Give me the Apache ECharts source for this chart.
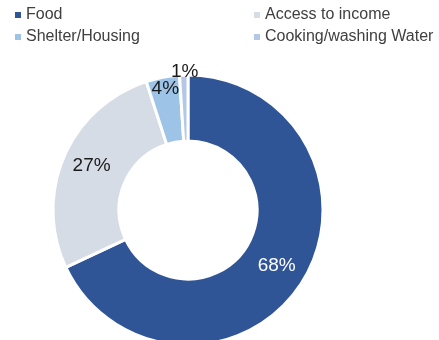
<!DOCTYPE html>
<html><head><meta charset="utf-8">
<script src="https://cdn.jsdelivr.net/npm/echarts@6/dist/echarts.min.js"></script>
<style>html,body{margin:0;padding:0;background:#fff}#c{width:439px;height:340px}</style>
</head><body><div id="c"></div>
<script>
const categories = ["Food", "Access to income", "Shelter/Housing", "Cooking/washing Water"];
const values = [68, 27, 4, 1];
const colors = ["#2F5597", "#D6DCE5", "#9DC3E6", "#B4C7E7"];
const labelColors = ["#ffffff", "#1a1a1a", "#1a1a1a", "#1a1a1a"];
const labelShift = [[0, 0], [0, -3], [-3, -18], [0, -33]];

const chart = echarts.init(document.getElementById('c'));
const font = "'Liberation Sans', Arial, sans-serif";
const legendBase = {
  orient: 'vertical', icon: 'rect', itemWidth: 6, itemHeight: 6, itemGap: 6, padding: 0,
  top: 7,
  itemStyle: { borderWidth: 0 },
  textStyle: { fontFamily: font, fontSize: 16, color: '#404040', lineHeight: 16 }
};
chart.setOption({
  animation: false,
  color: colors,
  legend: [
    Object.assign({}, legendBase, { left: 15, data: [categories[0], categories[2]] }),
    Object.assign({}, legendBase, { left: 254, data: [categories[1], categories[3]] })
  ],
  series: [{
    type: 'pie',
    center: [188, 210],
    radius: [69, 135],
    startAngle: 90,
    clockwise: true,
    avoidLabelOverlap: false,
    itemStyle: { borderColor: '#ffffff', borderWidth: 3 },
    label: {
      show: true, position: 'inside', formatter: '{d}%',
      fontFamily: font, fontSize: 19
    },
    labelLine: { show: false },
    labelLayout: function (p) {
      const s = labelShift[p.dataIndex];
      return { dx: s[0], dy: s[1] };
    },
    data: categories.map((n, i) => ({
      name: n, value: values[i],
      label: { color: labelColors[i] }
    }))
  }]
});
</script></body></html>
